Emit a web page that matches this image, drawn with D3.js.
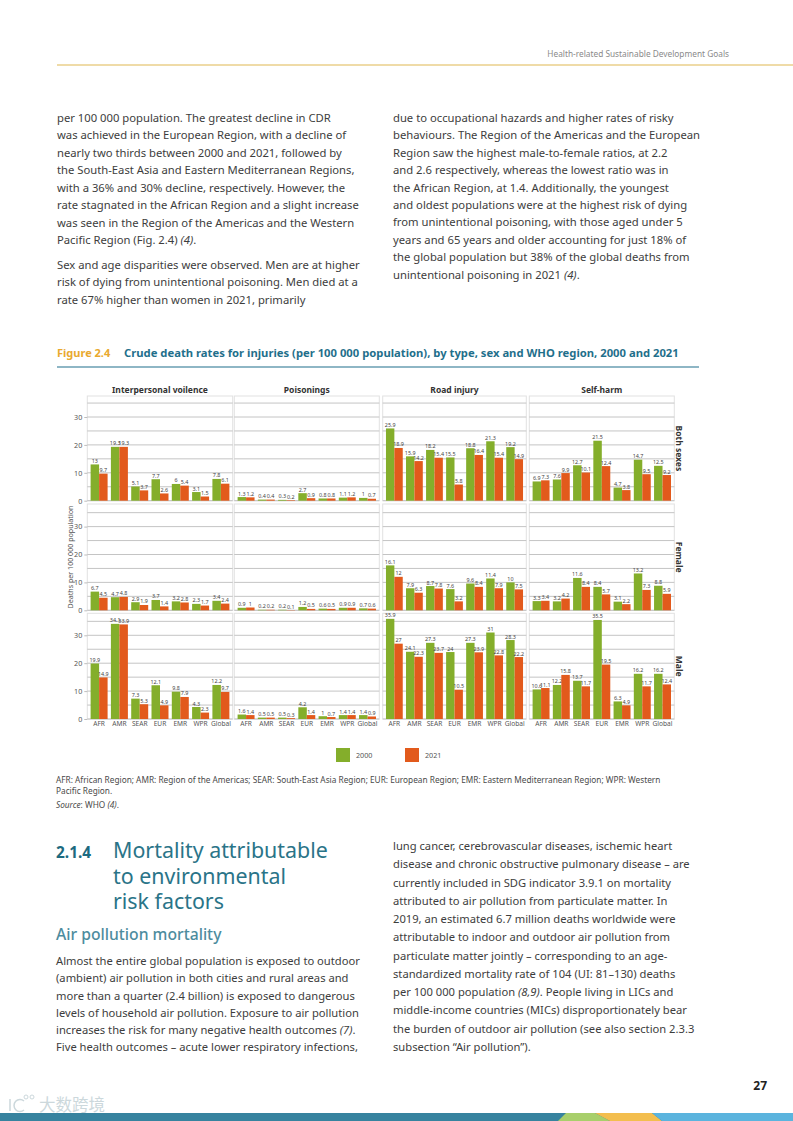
<!DOCTYPE html>
<html lang="en">
<head>
  <meta charset="UTF-8">
  <title>Figure 2.4</title>
  <script src="https://cdnjs.cloudflare.com/ajax/libs/d3/7.8.5/d3.min.js"></script>
  <style>
    html, body { margin: 0; padding: 0; background: #fff; }
    svg { display: block; }
    text { font-family: "Noto Sans", sans-serif; }
  </style>
</head>
<body>
<script>
  const regions = ['AFR', 'AMR', 'SEAR', 'EUR', 'EMR', 'WPR', 'Global'];
  const years = ['2000', '2021'];
  const causes = ['Interpersonal voilence', 'Poisonings', 'Road injury', 'Self-harm'];
  const sexes = ['Both sexes', 'Female', 'Male'];
  const yTicks = [0, 10, 20, 30];
  const yGrid = [0, 5, 10, 15, 20, 25, 30, 35];

  // rows are sexes, one array per cause
  const both2000 = [
    [13, 19.3, 5.1, 7.7, 6, 3.1, 7.8],
    [1.3, 0.4, 0.3, 2.7, 0.8, 1.1, 1],
    [25.9, 15.9, 18.2, 15.5, 18.8, 21.3, 19.2],
    [6.9, 7.6, 12.7, 21.5, 4.7, 14.7, 12.5]
  ];
  const both2021 = [
    [9.7, 19.3, 3.7, 2.6, 5.4, 1.5, 6.1],
    [1.2, 0.4, 0.2, 0.9, 0.8, 1.2, 0.7],
    [18.9, 14.2, 15.4, 5.8, 16.4, 15.4, 14.9],
    [7.3, 9.9, 10.1, 12.4, 3.8, 9.5, 9.2]
  ];
  const female2000 = [
    [6.7, 4.7, 2.9, 3.7, 3.2, 2.3, 3.4],
    [0.9, 0.2, 0.2, 1.2, 0.6, 0.9, 0.7],
    [16.1, 7.9, 8.7, 7.6, 9.6, 11.4, 10],
    [3.3, 3.2, 11.6, 8.4, 3.1, 13.2, 8.8]
  ];
  const female2021 = [
    [4.5, 4.8, 1.9, 1.4, 2.8, 1.7, 2.4],
    [1, 0.2, 0.1, 0.5, 0.5, 0.9, 0.6],
    [12, 6.3, 7.8, 3.2, 8.4, 7.9, 7.5],
    [3.4, 4.2, 8.4, 5.7, 2.2, 7.3, 5.9]
  ];
  const male2000 = [
    [19.9, 34.1, 7.3, 12.1, 9.8, 4.3, 12.2],
    [1.6, 0.5, 0.5, 4.2, 1, 1.4, 1.4],
    [35.9, 24.1, 27.3, 24, 27.3, 31, 28.3],
    [10.6, 12.2, 13.7, 35.5, 6.3, 16.2, 16.2]
  ];
  const male2021 = [
    [14.9, 33.9, 5.3, 4.9, 7.9, 2.3, 9.7],
    [1.4, 0.5, 0.3, 1.4, 0.7, 1.4, 0.9],
    [27, 22.3, 23.7, 10.5, 23.9, 22.8, 22.2],
    [11.1, 15.8, 11.7, 19.5, 4.9, 11.7, 12.4]
  ];
  const series2000 = [both2000, female2000, male2000];
  const series2021 = [both2021, female2021, male2021];

  const para1 = ['per 100 000 population. The greatest decline in CDR',
    'was achieved in the European Region, with a decline of',
    'nearly two thirds between 2000 and 2021, followed by',
    'the South-East Asia and Eastern Mediterranean Regions,',
    'with a 36% and 30% decline, respectively. However, the',
    'rate stagnated in the African Region and a slight increase',
    'was seen in the Region of the Americas and the Western',
    'Pacific Region (Fig. 2.4) <i>(4)</i>.'];
  const para2 = ['Sex and age disparities were observed. Men are at higher',
    'risk of dying from unintentional poisoning. Men died at a',
    'rate 67% higher than women in 2021, primarily'];
  const para3 = ['due to occupational hazards and higher rates of risky',
    'behaviours. The Region of the Americas and the European',
    'Region saw the highest male-to-female ratios, at 2.2',
    'and 2.6 respectively, whereas the lowest ratio was in',
    'the African Region, at 1.4. Additionally, the youngest',
    'and oldest populations were at the highest risk of dying',
    'from unintentional poisoning, with those aged under 5',
    'years and 65 years and older accounting for just 18% of',
    'the global population but 38% of the global deaths from',
    'unintentional poisoning in 2021 <i>(4)</i>.'];
  const notes = ['AFR: African Region; AMR: Region of the Americas; SEAR: South-East Asia Region; EUR: European Region; EMR: Eastern Mediterranean Region; WPR: Western',
    'Pacific Region.'];
  const source = ['<i>Source</i>: WHO <i>(4)</i>.'];
  const heading = ['Mortality attributable', 'to environmental', 'risk factors'];
  const para4 = ['Almost the entire global population is exposed to outdoor',
    '(ambient) air pollution in both cities and rural areas and',
    'more than a quarter (2.4 billion) is exposed to dangerous',
    'levels of household air pollution. Exposure to air pollution',
    'increases the risk for many negative health outcomes <i>(7)</i>.',
    'Five health outcomes – acute lower respiratory infections,'];
  const para5 = ['lung cancer, cerebrovascular diseases, ischemic heart',
    'disease and chronic obstructive pulmonary disease – are',
    'currently included in SDG indicator 3.9.1 on mortality',
    'attributed to air pollution from particulate matter. In',
    '2019, an estimated 6.7 million deaths worldwide were',
    'attributable to indoor and outdoor air pollution from',
    'particulate matter jointly – corresponding to an age-',
    'standardized mortality rate of 104 (UI: 81–130) deaths',
    'per 100 000 population <i>(8,9)</i>. People living in LICs and',
    'middle-income countries (MICs) disproportionately bear',
    'the burden of outdoor air pollution (see also section 2.3.3',
    'subsection “Air pollution”).'];

  const W = 793, H = 1121;
  const green = '#84ae2b', orange = '#e25a1c', teal = '#1f6f8b', textCol = '#3d3d3d';
  const svg = d3.select('body').append('svg').attr('width', W).attr('height', H);

  // body text lines, <i> segments become italic tspans
  function textLines (lines, x, y0, dy, size, fill) {
    lines.forEach((line, i) => {
      const t = svg.append('text').attr('x', x).attr('y', y0 + i * dy)
        .style('font-size', size + 'px').attr('fill', fill);
      line.split(/(<i>.*?<\/i>)/).filter(s => s).forEach(seg => {
        const it = seg.startsWith('<i>');
        t.append('tspan').style('font-style', it ? 'italic' : 'normal')
          .text(seg.replace(/<\/?i>/g, ''));
      });
    });
  }

  // header
  svg.append('text').attr('x', 729).attr('y', 57).attr('text-anchor', 'end')
    .style('font-size', '8.3px').attr('fill', '#8a8a8a')
    .text('Health-related Sustainable Development Goals');
  svg.append('line').attr('x1', 57).attr('x2', W).attr('y1', 65).attr('y2', 65)
    .attr('stroke', '#dfb750').attr('stroke-width', 1);

  textLines(para1, 57, 122, 17.45, 11.25, textCol);
  textLines(para2, 57, 269, 17.3, 11.25, textCol);
  textLines(para3, 393, 122, 17.4, 11.25, textCol);

  // figure title
  svg.append('text').attr('x', 57).attr('y', 357).style('font-size', '11px')
    .style('font-weight', 700).attr('fill', '#e9a92f').text('Figure 2.4');
  svg.append('text').attr('x', 124).attr('y', 357).style('font-size', '11.25px')
    .style('font-weight', 700).attr('fill', teal)
    .text('Crude death rates for injuries (per 100 000 population), by type, sex and WHO region, 2000 and 2021');
  svg.append('line').attr('x1', 57).attr('x2', 699).attr('y1', 367).attr('y2', 367)
    .attr('stroke', teal).attr('stroke-width', 1.2);

  // small multiples
  const colX = [[87.3, 232.7], [234.3, 379.3], [382.7, 526.3], [529.3, 674.3]];
  const rowY = [[396, 500.7], [504, 610.3], [613.3, 719]];
  const pxPerUnit = 2.79;

  sexes.forEach((sex, r) => {
    const y = d3.scaleLinear().domain([0, (rowY[r][1] - rowY[r][0]) / pxPerUnit]).range([rowY[r][1], rowY[r][0]]);
    causes.forEach((cause, c) => {
      const x0 = d3.scaleBand().domain(regions).range(colX[c]).padding(0.163);
      const x1 = d3.scaleBand().domain(years).range([0, x0.bandwidth()]);
      const g = svg.append('g');

      g.append('rect').attr('x', colX[c][0]).attr('y', rowY[r][0])
        .attr('width', colX[c][1] - colX[c][0]).attr('height', rowY[r][1] - rowY[r][0])
        .attr('fill', 'none').attr('stroke', '#e2e2e2').attr('stroke-width', 1);

      g.selectAll('.grid').data(yGrid.filter(d => y(d) > rowY[r][0])).join('line')
        .attr('x1', colX[c][0]).attr('x2', colX[c][1])
        .attr('y1', d => y(d)).attr('y2', d => y(d))
        .attr('stroke', '#bdbdbd').attr('stroke-width', 0.9);

      const rows = [series2000[r][c], series2021[r][c]];
      years.forEach((yr, k) => {
        g.selectAll('.bar' + yr).data(rows[k]).join('rect')
          .attr('x', (d, i) => x0(regions[i]) + x1(yr))
          .attr('width', x1.bandwidth())
          .attr('y', d => y(d))
          .attr('height', d => y(0) - y(d))
          .attr('fill', k === 0 ? green : orange);
        g.selectAll('.lab' + yr).data(rows[k]).join('text')
          .attr('x', (d, i) => x0(regions[i]) + x1(yr) + x1.bandwidth() / 2)
          .attr('y', d => y(d) - 1.5)
          .attr('text-anchor', 'middle')
          .style('font-size', '5.4px')
          .attr('fill', '#444')
          .text(d => d);
      });

      if (c === 0) {
        const axis = d3.axisLeft(y).tickValues(yTicks).tickSize(3).tickPadding(2);
        const ag = svg.append('g').attr('transform', `translate(${colX[0][0]},0)`).call(axis);
        ag.select('.domain').remove();
        ag.selectAll('line').attr('stroke', '#bdbdbd');
        ag.selectAll('text').style('font-size', '7.2px').attr('fill', '#555');
      }
      if (r === 2) {
        const axis = d3.axisBottom(x0).tickSize(0).tickPadding(2.5);
        const ag = svg.append('g').attr('transform', `translate(0,${rowY[2][1]})`).call(axis);
        ag.select('.domain').remove();
        ag.selectAll('text').style('font-size', '6.6px').attr('fill', '#555');
      }
      if (r === 0) {
        svg.append('text').attr('x', (colX[c][0] + colX[c][1]) / 2).attr('y', 393)
          .attr('text-anchor', 'middle').style('font-size', '8.5px')
          .style('font-weight', 700).attr('fill', '#333').text(cause);
      }
    });
    svg.append('text')
      .attr('transform', `translate(676,${(rowY[r][0] + rowY[r][1]) / 2}) rotate(90)`)
      .attr('text-anchor', 'middle').style('font-size', '8.5px')
      .style('font-weight', 700).attr('fill', '#333').text(sex);
  });

  svg.append('text').attr('transform', 'translate(73,557) rotate(-90)')
    .attr('text-anchor', 'middle').style('font-size', '7.1px').attr('fill', '#555')
    .text('Deaths per 100 000 population');

  // legend
  const legendX = d3.scaleOrdinal().domain(years).range([336, 405]);
  years.forEach((yr, k) => {
    svg.append('rect').attr('x', legendX(yr)).attr('y', 748).attr('width', 14).attr('height', 14)
      .attr('fill', k === 0 ? green : orange);
    svg.append('text').attr('x', legendX(yr) + 20).attr('y', 758)
      .style('font-size', '7.2px').attr('fill', '#555').text(yr);
  });

  textLines(notes, 56, 783, 11, 8.28, '#4a4a4a');
  textLines(source, 56, 808, 11, 8.28, '#4a4a4a');

  // section 2.1.4
  svg.append('text').attr('x', 56).attr('y', 858).style('font-size', '15.4px')
    .style('font-weight', 700).attr('fill', '#1d6a80').text('2.1.4');
  textLines(heading, 113, 858, 25.5, 21.4, '#2a7488');
  svg.append('text').attr('x', 56).attr('y', 940).style('font-size', '15.7px')
    .style('font-weight', 500).attr('fill', '#4d8c9e').text('Air pollution mortality');
  textLines(para4, 56, 965, 17.25, 11.2, textCol);
  textLines(para5, 393, 850, 18.27, 11.2, textCol);

  // page number and footer band
  svg.append('text').attr('x', 767).attr('y', 1090).attr('text-anchor', 'end')
    .style('font-size', '12px').style('font-weight', 700).attr('fill', '#222').text('27');
  svg.append('rect').attr('x', 0).attr('y', 1113).attr('width', W).attr('height', 8).attr('fill', '#37839f');
  svg.append('path').attr('d', 'M558,1121L566,1113H595L610,1121Z').attr('fill', '#a8cf6b');
  svg.append('path').attr('d', 'M610,1121L595,1113H652L662,1121Z').attr('fill', '#f3be4e');
  svg.append('path').attr('d', `M662,1121L652,1113H${W}V1121Z`).attr('fill', '#5bb4de');

  // watermark
  svg.append('path').attr('d', 'M10,1099V1111M24,1101A6,6 0 1 0 24,1110')
    .attr('fill', 'none').attr('stroke', '#ccd8dc').attr('stroke-width', 1.5);
  svg.append('circle').attr('cx', 26).attr('cy', 1097).attr('r', 2).attr('fill', 'none').attr('stroke', '#ccd8dc');
  svg.append('circle').attr('cx', 32).attr('cy', 1097).attr('r', 2).attr('fill', 'none').attr('stroke', '#ccd8dc');
  svg.append('text').attr('x', 39).attr('y', 1111).style('font-size', '16.5px')
    .style('font-family', '"Noto Sans CJK SC"').attr('fill', '#ccd8dc').text('大数跨境');
</script>
</body>
</html>
